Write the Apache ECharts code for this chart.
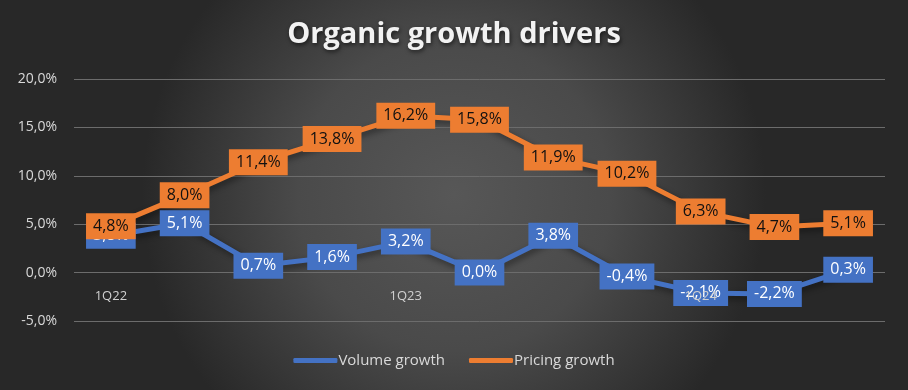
<!DOCTYPE html>
<html>
<head>
<meta charset="utf-8">
<script src="https://cdn.jsdelivr.net/npm/echarts@6/dist/echarts.min.js"></script>
<style>html,body{margin:0;padding:0;background:#333;}#c{width:908px;height:390px;}</style>
</head>
<body>
<div id="c"></div>
<script>
const categories = ['1Q22','2Q22','3Q22','4Q22','1Q23','2Q23','3Q23','4Q23','1Q24','2Q24','3Q24'];
const volumeGrowth = [3.8, 5.1, 0.7, 1.6, 3.2, 0.0, 3.8, -0.4, -2.1, -2.2, 0.3];
const pricingGrowth = [4.8, 8.0, 11.4, 13.8, 16.2, 15.8, 11.9, 10.2, 6.3, 4.7, 5.1];
const yTicks = [-5, 0, 5, 10, 15, 20];

const fmt = v => v.toFixed(1).replace('.', ',') + '%';
const chart = echarts.init(document.getElementById('c'));
const lineShadow = {shadowColor:'rgba(0,0,0,0.45)', shadowBlur:6, shadowOffsetX:2, shadowOffsetY:3};
chart.setOption({
  backgroundColor: {type:'radial', x:0.5, y:0.5, r:0.8, colorStops:[{offset:0,color:'#575757'},{offset:0.5,color:'#4a4a4a'},{offset:1,color:'#282828'}]},
  animation:false,
  title:{text:'Organic growth drivers', left:'center', top:15,
    textStyle:{color:'#f2f2f2', fontFamily:'Open Sans', fontWeight:'bold', fontSize:29,
      textShadowColor:'rgba(0,0,0,0.6)', textShadowBlur:4, textShadowOffsetX:1, textShadowOffsetY:2}},
  legend:{bottom:17, left:'center', itemWidth:44, itemHeight:5, itemGap:24,
    icon:'roundRect',
    textStyle:{color:'#d9d9d9', fontFamily:'Open Sans', fontSize:15, padding:[0,0,0,-4]},
    data:['Volume growth','Pricing growth']},
  grid:{left:74, right:23, top:79, bottom:69},
  xAxis:{type:'category', data:categories, boundaryGap:true, z:20,
    axisLine:{show:false, onZero:false}, axisTick:{show:false},
    axisLabel:{color:'#d0d0d0', fontFamily:'Open Sans', fontSize:13, margin:-31, interval:3}},
  yAxis:{type:'value', min:yTicks[0], max:yTicks[yTicks.length-1], interval:5,
    axisLabel:{color:'#d9d9d9', fontFamily:'Open Sans', fontSize:14, margin:17, formatter:fmt},
    splitLine:{lineStyle:{color:'#6c6c6c', width:1}}, axisLine:{show:false}, axisTick:{show:false}},
  series:[
    {name:'Volume growth', type:'line', data:volumeGrowth, symbol:'circle', symbolSize:4, showSymbol:true,
     itemStyle:{color:'#4472C4'}, color:'#4472C4',
     lineStyle:Object.assign({width:5, color:'#4472C4', join:'round'}, lineShadow),
     label:{show:true, position:'inside', formatter:p=>fmt(p.value), color:'#ffffff',
       fontFamily:'Open Sans', fontSize:16, backgroundColor:'#4472C4', padding:[6,7,4,7]}},
    {name:'Pricing growth', type:'line', data:pricingGrowth, symbol:'circle', symbolSize:4, showSymbol:true,
     itemStyle:{color:'#ED7D31'}, color:'#ED7D31',
     lineStyle:Object.assign({width:5, color:'#ED7D31', join:'round'}, lineShadow),
     label:{show:true, position:'inside', formatter:p=>fmt(p.value), color:'#111111',
       fontFamily:'Open Sans', fontSize:16, backgroundColor:'#ED7D31', padding:[6,7,4,7]}}
  ]
});
</script>
</body>
</html>
